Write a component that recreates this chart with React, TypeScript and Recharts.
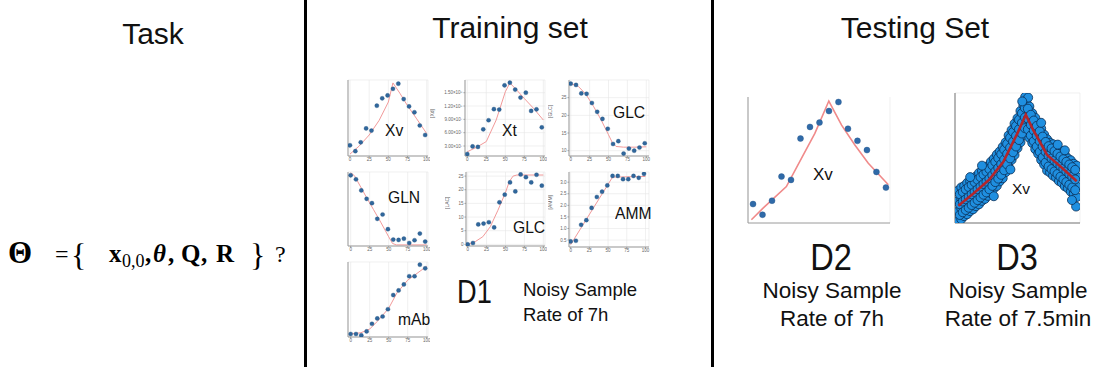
import React from "react";
import { ComposedChart, Scatter, Line, XAxis, YAxis, CartesianGrid } from "recharts";

// ---------- shared sample times (h) ----------
const SAMPLE_HOURS = [0, 7, 14, 21, 28, 35, 42, 49, 56, 63, 70, 77, 84, 91, 98];
const X_TICKS = [0, 25, 50, 75, 100];

// ---------- D1 (training set) measurements & model fits ----------
const XV_OBS = [11, 3, 15, 34, 31, 65, 75, 79, 88, 95, 74, 64, 56, 38, 25];
const XV_FIT_T = [0, 12, 25, 38, 50, 56, 65, 75, 87, 100];
const XV_FIT = [-1, 10, 25, 45, 70, 96, 82, 65, 47, 27];

const XT_OBS = [0.12, 0.29, 0.28, 0.675, 0.88, 1.13, 1.12, 1.665, 1.725, 1.57, 1.39, 1.5, 1.09, 1.125, 0.72];
const XT_FIT_T = [0, 12, 25, 38, 50, 56, 65, 75, 87, 100];
const XT_FIT = [0.17, 0.27, 0.4, 0.885, 1.52, 1.72, 1.56, 1.37, 1.15, 0.885];
const XT_TICKS = [0.3, 0.6, 0.9, 1.2, 1.5];
const XT_TICK_LABELS = ["3.00×10⁷", "6.00×10⁷", "9.00×10⁷", "1.20×10⁸", "1.50×10⁸"];

const GLC_OBS = [28.95, 28.6, 26.2, 26.1, 23.5, 21.0, 19.0, 16.2, 11.9, 12.7, 9.2, 10.6, 10.0, 10.9, 12.1];
const GLC_FIT_T = [0, 10, 20, 30, 40, 50, 55, 60, 70, 85, 100];
const GLC_FIT = [29, 28.2, 26, 22.6, 18.8, 14.5, 12.3, 11.2, 11.0, 11.0, 11.1];

const GLN_OBS = [95.5, 90, 75, 63.6, 57.7, 36.4, 42.3, 22.3, 8.2, 7.7, 9.5, 3.6, 7.3, 16.4, 5.5];
const GLN_FIT_T = [0, 5, 20, 30, 40, 50, 55, 60, 100];
const GLN_FIT = [99, 95, 67, 49, 31, 12, 3, 1, 1];

const LAC_OBS = [0, 0.5, 7.3, 7.6, 8.1, 6.2, 15.4, 18.2, 22.7, 19.4, 25.6, 24.6, 22.7, 25.5, 21.5];
const LAC_FIT_T = [0, 10, 20, 30, 40, 50, 55, 60, 65, 100];
const LAC_FIT = [0, 1, 2.8, 6.5, 12.5, 19, 23, 25, 25.4, 25.4];

const AMM_OBS = [0.44, 0.47, 1.16, 1.36, 1.89, 2.36, 2.59, 2.86, 3.27, 3.27, 3.13, 3.13, 3.27, 3.19, 3.36];
const AMM_FIT_T = [0, 56, 60, 100];
const AMM_FIT = [0.3, 3.22, 3.22, 3.25];

const MAB_OBS = [4.1, 4.1, 2.3, 7.7, 18.2, 25.5, 28.2, 38.2, 57.7, 64.1, 72.3, 83.6, 83.6, 99.5, 94.5];
const MAB_FIT_T = [0, 13.5, 25, 35, 50, 61, 75, 100];
const MAB_FIT = [4.1, 5.9, 10.9, 21.4, 39.5, 60.9, 78.2, 97.3];

// ---------- D2 (testing, 7 h sampling) ----------
const D2_OBS = [1.35, 0.935, 1.48, 2.42, 2.29, 3.9, 4.35, 4.52, 4.97, 5.32, 4.28, 3.81, 3.45, 2.6, 1.99];
const D2_FIT_T = [-1.2, 7.4, 24.6, 35.7, 45.6, 55.9, 65.3, 75.1, 85, 99.8];
const D2_FIT = [0.74, 1.19, 2.03, 3.13, 4.1, 5.36, 4.42, 3.65, 2.94, 2.1];

// ---------- D3 (testing, 7.5 min sampling) ----------
const D3_FIT_T = [0, 13, 26, 38, 50, 57, 63, 75, 88, 100];
const D3_FIT = [0.45, 0.78, 1.13, 1.6, 2.35, 2.83, 2.45, 1.78, 1.43, 1.09];
const D3_CLOUD: [number, number][] = [
  [0, 0.85], [0, 0.58], [0, 0.31], [0, 0.05],
  [2.5, 0.93], [2.5, 0.63], [2.5, 0.38], [2.5, 0.1],
  [5, 0.97], [5, 0.72], [5, 0.43], [5, 0.18],
  [7.5, 1.05], [7.5, 0.76], [7.5, 0.51], [7.5, 0.23],
  [10, 1.09], [10, 0.84], [10, 0.56], [10, 0.31],
  [12.5, 1.18], [12.5, 0.89], [12.5, 0.64], [12.5, 0.36],
  [15, 1.22], [15, 0.97], [15, 0.69], [15, 0.44],
  [17.5, 1.31], [17.5, 1.02], [17.5, 0.77], [17.5, 0.49],
  [20, 1.36], [20, 1.11], [20, 0.83], [20, 0.58],
  [22.5, 1.45], [22.5, 1.16], [22.5, 0.91], [22.5, 0.63],
  [25, 1.49], [25, 1.24], [25, 0.96], [25, 0.71],
  [27.5, 1.6], [27.5, 1.31], [27.5, 1.06], [27.5, 0.78],
  [30, 1.68], [30, 1.43], [30, 1.15], [30, 0.9],
  [32.5, 1.79], [32.5, 1.5], [32.5, 1.25], [32.5, 0.97],
  [35, 1.87], [35, 1.62], [35, 1.34], [35, 1.09],
  [37.5, 1.99], [37.5, 1.7], [37.5, 1.45], [37.5, 1.17],
  [40, 2.11], [40, 1.86], [40, 1.58], [40, 1.33],
  [42.5, 2.29], [42.5, 2.0], [42.5, 1.75], [42.5, 1.47],
  [45, 2.43], [45, 2.18], [45, 1.9], [45, 1.65],
  [47.5, 2.6], [47.5, 2.31], [47.5, 2.06], [47.5, 1.78],
  [50, 2.74], [50, 2.49], [50, 2.21], [50, 1.96],
  [52.5, 2.93], [52.5, 2.64], [52.5, 2.39], [52.5, 2.11],
  [55, 3.08], [55, 2.83], [55, 2.55], [55, 2.3],
  [57.5, 3.2], [57.5, 2.93], [57.5, 2.66], [57.5, 2.4],
  [60, 3.05], [60, 2.76], [60, 2.51], [60, 2.23],
  [62.5, 2.87], [62.5, 2.62], [62.5, 2.34], [62.5, 2.09],
  [65, 2.75], [65, 2.46], [65, 2.21], [65, 1.93],
  [67.5, 2.59], [67.5, 2.34], [67.5, 2.06], [67.5, 1.81],
  [70, 2.47], [70, 2.18], [70, 1.93], [70, 1.65],
  [72.5, 2.31], [72.5, 2.06], [72.5, 1.78], [72.5, 1.53],
  [75, 2.19], [75, 1.9], [75, 1.65], [75, 1.37],
  [77.5, 2.1], [77.5, 1.85], [77.5, 1.57], [77.5, 1.32],
  [80, 2.06], [80, 1.77], [80, 1.52], [80, 1.24],
  [82.5, 1.97], [82.5, 1.72], [82.5, 1.44], [82.5, 1.19],
  [85, 1.92], [85, 1.63], [85, 1.38], [85, 1.1],
  [87.5, 1.83], [87.5, 1.58], [87.5, 1.3], [87.5, 1.05],
  [90, 1.78], [90, 1.49], [90, 1.24], [90, 0.96],
  [92.5, 1.69], [92.5, 1.44], [92.5, 1.16], [92.5, 0.91],
  [95, 1.64], [95, 1.35], [95, 1.1], [95, 0.82],
  [97.5, 1.55], [97.5, 1.3], [97.5, 1.02], [97.5, 0.77],
  [100, 1.5], [100, 1.21], [100, 0.96], [100, 0.68],
  [1.25, 0.75], [1.25, 0.49], [1.25, 0.21], [3.75, 0.81], [3.75, 0.56], [3.75, 0.28],
  [6.25, 0.88], [6.25, 0.62], [6.25, 0.34], [8.75, 0.94], [8.75, 0.68], [8.75, 0.4],
  [11.25, 1.0], [11.25, 0.75], [11.25, 0.47], [13.75, 1.07], [13.75, 0.81], [13.75, 0.53],
  [16.25, 1.13], [16.25, 0.88], [16.25, 0.6], [18.75, 1.2], [18.75, 0.95], [18.75, 0.67],
  [21.25, 1.27], [21.25, 1.02], [21.25, 0.74], [23.75, 1.34], [23.75, 1.08], [23.75, 0.8],
  [26.25, 1.41], [26.25, 1.16], [26.25, 0.88], [28.75, 1.51], [28.75, 1.25], [28.75, 0.97],
  [31.25, 1.6], [31.25, 1.35], [31.25, 1.07], [33.75, 1.7], [33.75, 1.44], [33.75, 1.16],
  [36.25, 1.8], [36.25, 1.54], [36.25, 1.26], [38.75, 1.92], [38.75, 1.66], [38.75, 1.38],
  [41.25, 2.07], [41.25, 1.81], [41.25, 1.53], [43.75, 2.23], [43.75, 1.97], [43.75, 1.69],
  [46.25, 2.38], [46.25, 2.13], [46.25, 1.85], [48.75, 2.54], [48.75, 2.28], [48.75, 2.0],
  [51.25, 2.7], [51.25, 2.45], [51.25, 2.17], [53.75, 2.87], [53.75, 2.62], [53.75, 2.34],
  [56.25, 3.01], [56.25, 2.76], [56.25, 2.48], [58.75, 2.99], [58.75, 2.73], [58.75, 2.45],
  [61.25, 2.83], [61.25, 2.57], [61.25, 2.29], [63.75, 2.68], [63.75, 2.42], [63.75, 2.14],
  [66.25, 2.54], [66.25, 2.28], [66.25, 2.0], [68.75, 2.4], [68.75, 2.14], [68.75, 1.86],
  [71.25, 2.26], [71.25, 2.0], [71.25, 1.72], [73.75, 2.12], [73.75, 1.86], [73.75, 1.58],
  [76.25, 2.01], [76.25, 1.76], [76.25, 1.48], [78.75, 1.95], [78.75, 1.69], [78.75, 1.41],
  [81.25, 1.88], [81.25, 1.63], [81.25, 1.35], [83.75, 1.81], [83.75, 1.56], [83.75, 1.28],
  [86.25, 1.74], [86.25, 1.49], [86.25, 1.21], [88.75, 1.67], [88.75, 1.42], [88.75, 1.14],
  [91.25, 1.6], [91.25, 1.35], [91.25, 1.07], [93.75, 1.53], [93.75, 1.28], [93.75, 1.0],
  [96.25, 1.46], [96.25, 1.21], [96.25, 0.93], [98.75, 1.39], [98.75, 1.14], [98.75, 0.86],
  [56.5, 3.3], [59, 3.28], [54, 3.18], [99.5, 0.43], [96, 0.6], [30, 0.7],
  [70, 2.62], [84, 2.05], [44, 1.4], [20, 1.5], [10, 1.2], [90, 1.9],
];

// ---------- helpers ----------
type Pt = { x: number; y: number };
const pairs = (xs: number[], ys: number[]): Pt[] => xs.map((x, i) => ({ x, y: ys[i] }));
const cloud = (list: [number, number][]): Pt[] => list.map(([x, y]) => ({ x, y }));

const SANS = '"Liberation Sans", Arial, Helvetica, sans-serif';
const SERIF = '"Liberation Serif", "Times New Roman", serif';

type DotStyle = { r: number; fill: string; stroke: string; sw: number };

interface PanelProps {
  plot: [number, number, number, number];
  axisW: number;
  axisH: number;
  xDomain: [number, number];
  yDomain: [number, number];
  yTicks: number[];
  yTickText?: (v: number) => string;
  showYText?: boolean;
  showXText?: boolean;
  yLabel?: string;
  points: Pt[];
  fit: Pt[];
  dot: DotStyle;
  fitStroke: string;
  fitWidth: number;
  gridH?: boolean;
  fontSize?: number;
  axisColor?: string;
  lineOnTop?: boolean;
}

function Panel(p: PanelProps) {
  const [l, t, w, h] = p.plot;
  const width = p.axisW + w + 2;
  const height = h + p.axisH + 2;
  const fs = p.fontSize ?? 4.5;
  const axisColor = p.axisColor ?? "#9a9a9a";
  const d = p.dot;
  const margin = { top: 2, right: 2, bottom: 0, left: 0 };

  const fitLine = (
    <Line
      data={p.fit}
      dataKey="y"
      type="linear"
      stroke={p.fitStroke}
      strokeWidth={p.fitWidth}
      dot={false}
      activeDot={false}
      isAnimationActive={false}
    />
  );

  return (
    <div style={{ position: "absolute", left: l - p.axisW, top: t - 2, width, height }}>
      <div style={{ position: "absolute", left: 0, top: 0 }}>
        <ComposedChart width={width} height={height} margin={margin}>
          <CartesianGrid stroke="#e6e6e6" strokeWidth={0.6} horizontal={p.gridH ?? true} vertical />
          <XAxis
            type="number"
            dataKey="x"
            domain={p.xDomain}
            ticks={X_TICKS}
            interval={0}
            allowDataOverflow
            height={p.axisH}
            stroke={axisColor}
            tickSize={1.5}
            tickMargin={0.5}
            tick={p.showXText === false ? false : { fontSize: fs, fill: "#666", fontFamily: SANS }}
          />
          <YAxis
            type="number"
            dataKey="y"
            domain={p.yDomain}
            ticks={p.yTicks}
            interval={0}
            allowDataOverflow
            width={p.axisW}
            stroke={axisColor}
            tickSize={1.5}
            tickMargin={1}
            tickFormatter={p.yTickText}
            tick={p.showYText ? { fontSize: fs, fill: "#666", fontFamily: SANS } : false}
            label={
              p.yLabel
                ? { value: p.yLabel, angle: -90, position: "insideLeft", offset: 2, fontSize: 5, fill: "#666", fontFamily: SANS }
                : undefined
            }
          />
          <Scatter
            data={p.points}
            dataKey="y"
            isAnimationActive={false}
            shape={(s: any) => <circle cx={s.cx} cy={s.cy} r={d.r} fill={d.fill} stroke={d.stroke} strokeWidth={d.sw} />}
          />
          {!p.lineOnTop && fitLine}
        </ComposedChart>
      </div>
      {p.lineOnTop && (
        <div style={{ position: "absolute", left: 0, top: 0 }}>
          <ComposedChart
            width={width}
            height={height}
            margin={{ top: 2, right: 2, bottom: p.axisH, left: p.axisW }}
          >
            <XAxis type="number" dataKey="x" domain={p.xDomain} allowDataOverflow hide />
            <YAxis type="number" dataKey="y" domain={p.yDomain} allowDataOverflow hide />
            {fitLine}
          </ComposedChart>
        </div>
      )}
    </div>
  );
}

function Txt(props: {
  x: number;
  capTop: number;
  size: number;
  children: React.ReactNode;
  center?: boolean;
  sx?: number;
}) {
  const { x, capTop, size, children, center, sx = 1 } = props;
  return (
    <div
      style={{
        position: "absolute",
        left: x,
        top: capTop - 0.13 * size,
        fontSize: size,
        lineHeight: 1,
        fontFamily: SANS,
        whiteSpace: "nowrap",
        color: "#111",
        transform: `${center ? "translateX(-50%) " : ""}scaleX(${sx})`,
        transformOrigin: center ? "center" : "left",
      }}
    >
      {children}
    </div>
  );
}

function MathPiece(props: {
  x: number;
  base: number;
  size: number;
  children: React.ReactNode;
  bold?: boolean;
  italic?: boolean;
}) {
  const { x, base, size, children, bold, italic } = props;
  return (
    <span
      style={{
        position: "absolute",
        left: x,
        top: base - 0.84 * size,
        fontSize: size,
        lineHeight: 1,
        fontFamily: SERIF,
        fontWeight: bold ? 700 : 400,
        fontStyle: italic ? "italic" : "normal",
        whiteSpace: "nowrap",
        color: "#000",
      }}
    >
      {children}
    </span>
  );
}

const MINI_DOT: DotStyle = { r: 2.1, fill: "#30679c", stroke: "#24527e", sw: 0.3 };
const MINI_FIT = "#f29a9a";

export default function App() {
  const xtFmt = (v: number) => {
    const i = XT_TICKS.findIndex((t) => Math.abs(t - v) < 1e-6);
    return i >= 0 ? XT_TICK_LABELS[i] : "";
  };
  const fmtPlain = (v: number) => String(v);
  const fmtOne = (v: number) => v.toFixed(1);

  return (
    <div
      style={{
        position: "absolute",
        left: 0,
        top: 0,
        width: 1097,
        height: 367,
        background: "#fff",
        overflow: "hidden",
      }}
    >
      {/* section dividers */}
      <div style={{ position: "absolute", left: 304, top: 0, width: 3, height: 367, background: "#000" }} />
      <div style={{ position: "absolute", left: 711, top: 0, width: 3, height: 367, background: "#000" }} />

      {/* section headings */}
      <Txt x={153} capTop={23} size={30} center>Task</Txt>
      <Txt x={510} capTop={17} size={30} center>Training set</Txt>
      <Txt x={915} capTop={17} size={30} center>Testing Set</Txt>

      {/* parameter set */}
      <MathPiece x={8} base={263} size={31} bold>Θ</MathPiece>
      <MathPiece x={55} base={262} size={24}>=</MathPiece>
      <MathPiece x={71} base={266} size={32}>{"{"}</MathPiece>
      <MathPiece x={109} base={262} size={25} bold>x</MathPiece>
      <MathPiece x={122} base={267} size={18}>0,0</MathPiece>
      <MathPiece x={145} base={262} size={25} bold>,</MathPiece>
      <MathPiece x={153} base={262} size={25} bold italic>θ</MathPiece>
      <MathPiece x={168} base={262} size={25} bold>,</MathPiece>
      <MathPiece x={181} base={262} size={25} bold>Q</MathPiece>
      <MathPiece x={201} base={262} size={25} bold>,</MathPiece>
      <MathPiece x={216} base={262} size={25} bold>R</MathPiece>
      <MathPiece x={250} base={266} size={32}>{"}"}</MathPiece>
      <MathPiece x={275} base={262} size={24}>?</MathPiece>

      {/* D1 mini panels */}
      <Panel plot={[348, 80, 80, 76]} axisW={4} axisH={7} xDomain={[-2.6, 101.7]} yDomain={[-3.6, 100]}
        yTicks={[0, 20, 40, 60, 80]} points={pairs(SAMPLE_HOURS, XV_OBS)} fit={pairs(XV_FIT_T, XV_FIT)}
        dot={MINI_DOT} fitStroke={MINI_FIT} fitWidth={1} />
      <Panel plot={[465, 80, 80, 76]} axisW={35} axisH={7} xDomain={[-3, 102.2]} yDomain={[0.075, 1.786]}
        yTicks={XT_TICKS} yTickText={xtFmt} showYText yLabel="[Xd]" points={pairs(SAMPLE_HOURS, XT_OBS)}
        fit={pairs(XT_FIT_T, XT_FIT)} dot={MINI_DOT} fitStroke={MINI_FIT} fitWidth={1} />
      <Panel plot={[569, 80, 80, 76]} axisW={21} axisH={7} xDomain={[-2.3, 103.6]} yDomain={[8.5, 30]}
        yTicks={[10, 15, 20, 25]} yTickText={fmtPlain} showYText yLabel="[GLC]"
        points={pairs(SAMPLE_HOURS, GLC_OBS)} fit={pairs(GLC_FIT_T, GLC_FIT)} dot={MINI_DOT}
        fitStroke={MINI_FIT} fitWidth={1} />

      <Panel plot={[348, 172, 80, 74]} axisW={4} axisH={7} xDomain={[-3.5, 101.7]} yDomain={[-0.5, 100]}
        yTicks={[0, 20, 40, 60, 80, 100]} points={pairs(SAMPLE_HOURS, GLN_OBS)} fit={pairs(GLN_FIT_T, GLN_FIT)}
        dot={MINI_DOT} fitStroke={MINI_FIT} fitWidth={1} />
      <Panel plot={[466, 172, 79, 74]} axisW={21} axisH={7} xDomain={[-2.2, 102.2]} yDomain={[-0.6, 26.5]}
        yTicks={[0, 5, 10, 15, 20, 25]} yTickText={fmtPlain} showYText yLabel="[LAC]"
        points={pairs(SAMPLE_HOURS, LAC_OBS)} fit={pairs(LAC_FIT_T, LAC_FIT)} dot={MINI_DOT}
        fitStroke={MINI_FIT} fitWidth={1} />
      <Panel plot={[569, 172, 80, 75]} axisW={21} axisH={7} xDomain={[-2.2, 104.7]} yDomain={[0.2, 3.44]}
        yTicks={[0.5, 1, 1.5, 2, 2.5, 3]} yTickText={fmtOne} showYText yLabel="[AMM]"
        points={pairs(SAMPLE_HOURS, AMM_OBS)} fit={pairs(AMM_FIT_T, AMM_FIT)} dot={MINI_DOT}
        fitStroke={MINI_FIT} fitWidth={1} />

      <Panel plot={[348, 262, 80, 75]} axisW={4} axisH={7} xDomain={[-3.5, 101.7]} yDomain={[0, 103.2]}
        yTicks={[0, 20, 40, 60, 80, 100]} points={pairs(SAMPLE_HOURS, MAB_OBS)} fit={pairs(MAB_FIT_T, MAB_FIT)}
        dot={MINI_DOT} fitStroke={MINI_FIT} fitWidth={1} />

      {/* D1 panel names */}
      <Txt x={385} capTop={124} size={17} sx={0.92}>Xv</Txt>
      <Txt x={502} capTop={124} size={17} sx={0.92}>Xt</Txt>
      <Txt x={613} capTop={106} size={17} sx={0.92}>GLC</Txt>
      <Txt x={388} capTop={191} size={17} sx={0.92}>GLN</Txt>
      <Txt x={513} capTop={221} size={17} sx={0.92}>GLC</Txt>
      <Txt x={615} capTop={207} size={17} sx={0.92}>AMM</Txt>
      <Txt x={398} capTop={313} size={17} sx={0.92}>mAb</Txt>

      <Txt x={457} capTop={278} size={34} sx={0.8}>D1</Txt>
      <Txt x={523} capTop={283} size={18.5}>Noisy Sample</Txt>
      <Txt x={523} capTop={308} size={18.5}>Rate of 7h</Txt>

      {/* D2 */}
      <Panel plot={[748, 97, 142, 126]} axisW={4} axisH={4} xDomain={[-3.7, 101]} yDomain={[0.613, 5.516]}
        yTicks={[1, 2, 3, 4, 5]} showXText={false} gridH={false} points={pairs(SAMPLE_HOURS, D2_OBS)}
        fit={pairs(D2_FIT_T, D2_FIT)} dot={{ r: 3, fill: "#2f6aa8", stroke: "#25578c", sw: 0.4 }}
        fitStroke="#f08a8a" fitWidth={1.6} />
      <Txt x={813} capTop={168} size={17}>Xv</Txt>
      <Txt x={831} capTop={244} size={37} sx={0.88} center>D2</Txt>
      <Txt x={832} capTop={283} size={22.5} center>Noisy Sample</Txt>
      <Txt x={832} capTop={311} size={22.5} center>Rate of 7h</Txt>

      {/* D3 */}
      <Panel plot={[955, 93, 125, 130]} axisW={4} axisH={4} xDomain={[-2.8, 102.8]} yDomain={[0, 3.4]}
        yTicks={[1.13, 2.13, 3.13]} showXText={false} points={cloud(D3_CLOUD)} fit={pairs(D3_FIT_T, D3_FIT)}
        dot={{ r: 4.5, fill: "#1f8fe0", stroke: "#0b2f55", sw: 0.8 }} fitStroke="#b3262b" fitWidth={2.6}
        axisColor="#777" lineOnTop />
      <Txt x={1012} capTop={183} size={15.5}>Xv</Txt>
      <Txt x={1017} capTop={244} size={37} sx={0.88} center>D3</Txt>
      <Txt x={1018} capTop={283} size={22.5} center>Noisy Sample</Txt>
      <Txt x={1018} capTop={311} size={22.5} center>Rate of 7.5min</Txt>
    </div>
  );
}
